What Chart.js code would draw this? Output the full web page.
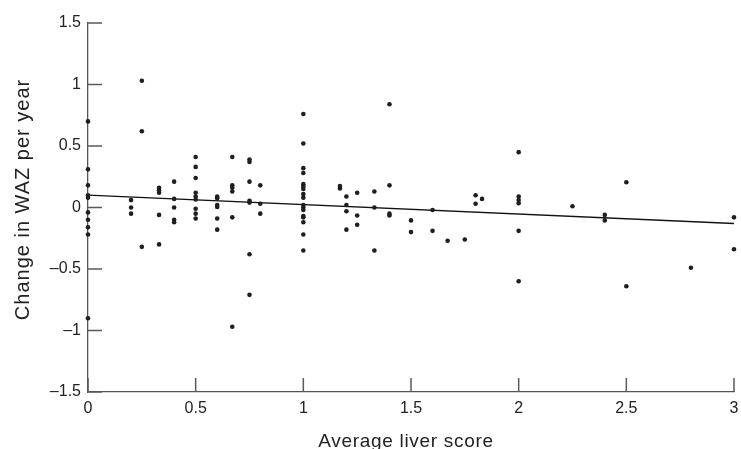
<!DOCTYPE html>
<html>
<head>
<meta charset="utf-8">
<script src="https://cdn.jsdelivr.net/npm/chart.js@4.4.1/dist/chart.umd.min.js"></script>
<style>
  html, body { margin: 0; padding: 0; background: #fff; }
  #wrap { width: 741px; height: 449px; }
</style>
</head>
<body>
<div id="wrap"><canvas id="chart"></canvas></div>
<script>
// average liver score (x) and change in WAZ per year (y), one entry per child
const liverScore = [
  0, 0, 0, 0, 0, 0, 0, 0, 0, 0,
  0.2, 0.2, 0.2,
  0.25, 0.25, 0.25,
  0.33, 0.33, 0.33, 0.33, 0.33,
  0.4, 0.4, 0.4, 0.4, 0.4,
  0.5, 0.5, 0.5, 0.5, 0.5, 0.5, 0.5, 0.5, 0.5,
  0.6, 0.6, 0.6, 0.6, 0.6, 0.6,
  0.67, 0.67, 0.67, 0.67, 0.67, 0.67,
  0.75, 0.75, 0.75, 0.75, 0.75, 0.75, 0.75,
  0.8, 0.8, 0.8,
  1, 1, 1, 1, 1, 1, 1, 1, 1, 1, 1, 1, 1, 1, 1, 1, 1,
  1.17, 1.17,
  1.2, 1.2, 1.2, 1.2,
  1.25, 1.25, 1.25,
  1.33, 1.33, 1.33,
  1.4, 1.4, 1.4, 1.4,
  1.5, 1.5,
  1.6, 1.6,
  1.67,
  1.75,
  1.8, 1.8,
  1.83,
  2, 2, 2, 2, 2, 2,
  2.25,
  2.4, 2.4,
  2.5, 2.5,
  2.8,
  3, 3
];
const wazChange = [
  0.70, 0.31, 0.18, 0.10, 0.08, -0.04, -0.10, -0.16, -0.22, -0.90,
  0.06, 0.00, -0.05,
  1.03, 0.62, -0.32,
  0.16, 0.14, 0.12, -0.06, -0.30,
  0.21, 0.07, 0.00, -0.10, -0.12,
  0.41, 0.33, 0.24, 0.12, 0.09, 0.065, -0.01, -0.05, -0.09,
  0.09, 0.075, 0.02, 0.005, -0.09, -0.18,
  0.41, 0.18, 0.16, 0.13, -0.08, -0.97,
  0.39, 0.37, 0.21, 0.055, 0.04, -0.38, -0.71,
  0.18, 0.03, -0.05,
  0.76, 0.52, 0.32, 0.28, 0.19, 0.17, 0.15, 0.11, 0.08, 0.02, 0.00, -0.02, -0.07, -0.08, -0.12, -0.22, -0.35,
  0.175, 0.155,
  0.09, 0.02, -0.03, -0.18,
  0.12, -0.065, -0.14,
  0.13, 0.00, -0.35,
  0.84, 0.18, -0.05, -0.065,
  -0.105, -0.20,
  -0.02, -0.19,
  -0.27,
  -0.26,
  0.10, 0.03,
  0.07,
  0.45, 0.09, 0.06, 0.035, -0.19, -0.60,
  0.01,
  -0.06, -0.105,
  0.205, -0.64,
  -0.49,
  -0.08, -0.34
];

// fitted regression line
const fitX = [0, 3];
const fitY = [0.10, -0.13];

const xTicks = [0, 0.5, 1, 1.5, 2, 2.5, 3];
const yTicks = [-1.5, -1, -0.5, 0, 0.5, 1, 1.5];

const xTitle = "Average liver score";
const yTitle = "Change in WAZ per year";

const points = liverScore.map((x, i) => ({ x, y: wazChange[i] }));
const fitLine = fitX.map((x, i) => ({ x, y: fitY[i] }));

const fmt = v => (v < 0 ? "\u2013" + Math.abs(v) : String(v));
const FONT = "'Liberation Sans', Arial, Helvetica, sans-serif";

// tick marks pointing into the plot
const innerTicks = {
  id: "innerTicks",
  afterDraw(chart) {
    const { ctx, chartArea: a } = chart;
    const xs = chart.scales.x;
    const ys = chart.scales.y;
    ctx.save();
    ctx.strokeStyle = "#5a5a5a";
    ctx.lineWidth = 1.5;
    ctx.beginPath();
    xTicks.forEach(v => {
      const px = xs.getPixelForValue(v);
      ctx.moveTo(px, a.bottom);
      ctx.lineTo(px, a.bottom - 14);
    });
    yTicks.forEach(v => {
      const py = ys.getPixelForValue(v);
      ctx.moveTo(a.left, py);
      ctx.lineTo(a.left + 14, py);
    });
    ctx.stroke();
    ctx.restore();
  }
};

// axis titles, slightly letter-spaced like the original
const axisTitles = {
  id: "axisTitles",
  afterDraw(chart) {
    const { ctx, chartArea: a } = chart;
    ctx.save();
    ctx.fillStyle = "#222";
    ctx.textAlign = "center";
    ctx.textBaseline = "alphabetic";
    ctx.font = "19px " + FONT;
    if ("letterSpacing" in ctx) ctx.letterSpacing = "0.7px";
    ctx.fillText(xTitle, (a.left + a.right) / 2 - 5, 446.5);
    ctx.font = "20px " + FONT;
    if ("letterSpacing" in ctx) ctx.letterSpacing = "1px";
    ctx.translate(28.5, (a.top + a.bottom) / 2 - 8);
    ctx.rotate(-Math.PI / 2);
    ctx.fillText(yTitle, 0, 0);
    ctx.restore();
  }
};

new Chart(document.getElementById("chart"), {
  type: "scatter",
  data: {
    datasets: [
      {
        data: points,
        backgroundColor: "#1e1e1e",
        borderWidth: 0,
        pointRadius: 2.3,
        pointHoverRadius: 2.3,
        clip: false
      },
      {
        type: "line",
        data: fitLine,
        borderColor: "#111",
        borderWidth: 1.3,
        pointRadius: 0,
        fill: false,
        clip: false
      }
    ]
  },
  options: {
    responsive: true,
    maintainAspectRatio: false,
    animation: false,
    events: [],
    layout: { padding: { top: 23, right: 7, left: 0, bottom: 0 } },
    plugins: {
      legend: { display: false },
      tooltip: { enabled: false }
    },
    scales: {
      x: {
        type: "linear",
        min: 0,
        max: 3,
        afterBuildTicks: s => { s.ticks = xTicks.map(v => ({ value: v })); },
        afterFit: s => { s.height = 57; s.paddingLeft = 0; s.paddingRight = 0; },
        grid: { drawOnChartArea: false, drawTicks: false },
        border: { color: "#555", width: 1.3 },
        ticks: {
          padding: 7,
          color: "#222",
          font: { family: FONT, size: 16 },
          callback: v => fmt(v)
        }
      },
      y: {
        type: "linear",
        min: -1.5,
        max: 1.5,
        afterBuildTicks: s => { s.ticks = yTicks.map(v => ({ value: v })); },
        afterFit: s => { s.width = 88; s.paddingTop = 0; s.paddingBottom = 0; },
        grid: { drawOnChartArea: false, drawTicks: false },
        border: { color: "#555", width: 1.3 },
        ticks: {
          padding: 7,
          color: "#222",
          font: { family: FONT, size: 16 },
          callback: v => fmt(v)
        }
      }
    }
  },
  plugins: [innerTicks, axisTitles]
});
</script>
</body>
</html>
